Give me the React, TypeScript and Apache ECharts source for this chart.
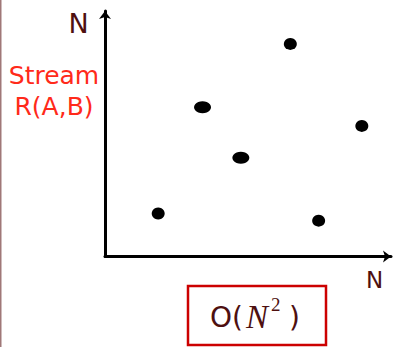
import React, { useEffect, useRef } from "react";
import * as echarts from "echarts";

// Tuples in stream R(A,B): [A value, B value]
const singlePoints: number[][] = [
  [18.6, 17.5],
  [64.8, 86.6],
  [89.8, 53.2],
  [74.7, 14.6],
];
// Duplicated tuples (two records at the same spot)
const doublePoints: number[][] = [
  [34.1, 60.8],
  [47.5, 40.2],
];
const axisName = "N";
const streamLabel = "Stream\nR(A,B)";

export default function App() {
  const ref = useRef<HTMLDivElement>(null);
  useEffect(() => {
    document.body.style.margin = "0";
    const chart = echarts.init(ref.current!, null, { renderer: "svg" });
    const brown = "#4e1010";
    chart.setOption({
      animation: false,
      backgroundColor: "#ffffff",
      grid: { left: 105, right: 5, top: 11, bottom: 90.5 },
      xAxis: {
        type: "value",
        min: 0,
        max: 100,
        axisLine: {
          show: true,
          symbol: ["none", "arrow"],
          symbolSize: [9, 8],
          lineStyle: { color: "#000", width: 3 },
        },
        axisTick: { show: false },
        axisLabel: { show: false },
        splitLine: { show: false },
      },
      yAxis: {
        type: "value",
        min: 0,
        max: 100,
        axisLine: {
          show: true,
          symbol: ["none", "arrow"],
          symbolSize: [9, 8],
          lineStyle: { color: "#000", width: 3 },
        },
        axisTick: { show: false },
        axisLabel: { show: false },
        splitLine: { show: false },
      },
      series: [
        {
          type: "scatter",
          data: singlePoints,
          symbol: "circle",
          symbolSize: [13, 12],
          itemStyle: { color: "#000", opacity: 1 },
        },
        {
          type: "scatter",
          data: doublePoints,
          symbol: "circle",
          symbolSize: [17, 12],
          itemStyle: { color: "#000", opacity: 1 },
        },
      ],
      graphic: [
        {
          type: "line",
          shape: { x1: 0.75, y1: 0, x2: 0.75, y2: 347 },
          style: { stroke: "#a07878", lineWidth: 1.5 },
        },
        {
          type: "text",
          x: 78.5,
          y: 23,
          style: {
            text: axisName,
            font: "27px 'DejaVu Sans'",
            fill: brown,
            align: "center",
            verticalAlign: "middle",
          },
        },
        {
          type: "text",
          x: 374.5,
          y: 280,
          style: {
            text: axisName,
            font: "23px 'DejaVu Sans'",
            fill: brown,
            align: "center",
            verticalAlign: "middle",
          },
        },
        {
          type: "text",
          x: 54,
          y: 91,
          style: {
            text: streamLabel,
            font: "25px 'DejaVu Sans'",
            lineHeight: 31,
            fill: "#ff2a1a",
            align: "center",
            verticalAlign: "middle",
          },
        },
        {
          type: "rect",
          shape: { x: 188, y: 286, width: 138, height: 59 },
          style: { fill: "#fff", stroke: "#cc0000", lineWidth: 2.5 },
        },
        {
          type: "text",
          x: 210,
          y: 317,
          style: {
            text: "O(",
            font: "28px 'DejaVu Sans'",
            fill: brown,
            align: "left",
            verticalAlign: "middle",
          },
        },
        {
          type: "text",
          x: 246,
          y: 317,
          style: {
            text: "N",
            font: "italic 33px 'Liberation Serif'",
            fill: brown,
            align: "left",
            verticalAlign: "middle",
          },
        },
        {
          type: "text",
          x: 271,
          y: 304,
          style: {
            text: "2",
            font: "19px 'Liberation Serif'",
            fill: brown,
            align: "left",
            verticalAlign: "middle",
          },
        },
        {
          type: "text",
          x: 289,
          y: 317,
          style: {
            text: ")",
            font: "28px 'DejaVu Sans'",
            fill: brown,
            align: "left",
            verticalAlign: "middle",
          },
        },
      ],
    });
    return () => chart.dispose();
  }, []);
  return (
    <div
      ref={ref}
      style={{ position: "absolute", left: 0, top: 0, width: 396, height: 347 }}
    />
  );
}
